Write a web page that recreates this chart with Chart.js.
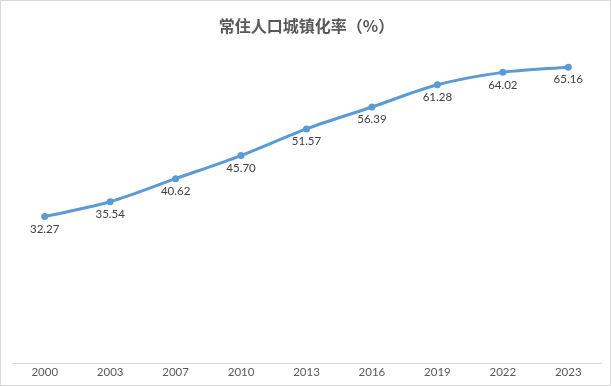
<!DOCTYPE html>
<html>
<head>
<meta charset="utf-8">
<script src="https://cdn.jsdelivr.net/npm/chart.js@4.4.0/dist/chart.umd.min.js"></script>
<style>
  html, body { margin: 0; padding: 0; background: #fff; }
  #wrap { width: 611px; height: 386px; }
</style>
</head>
<body>
<div id="wrap"><canvas id="urbanChart" width="611" height="386"></canvas></div>
<script>
// 年份与城镇化率
const years = ['2000', '2003', '2007', '2010', '2013', '2016', '2019', '2022', '2023'];
const urbanRate = [32.27, 35.54, 40.62, 45.70, 51.57, 56.39, 61.28, 64.02, 65.16];
const chartTitle = '常住人口城镇化率（%）';

// 白底 + 外框
const frame = {
    id: 'frame',
    beforeDraw(chart) {
        const c = chart.ctx;
        c.save();
        c.fillStyle = '#fff';
        c.fillRect(0, 0, chart.width, chart.height);
        c.restore();
    },
    afterDraw(chart) {
        const c = chart.ctx;
        c.save();
        c.strokeStyle = '#D9D9D9';
        c.lineWidth = 1;
        c.strokeRect(0.5, 0.5, chart.width - 1, chart.height - 1);
        c.restore();
    }
};

// 数据标签（点下方）
const pointLabels = {
    id: 'pointLabels',
    afterDatasetsDraw(chart) {
        const c = chart.ctx;
        const meta = chart.getDatasetMeta(0);
        c.save();
        c.font = '11.5px Lato, "Liberation Sans", sans-serif';
        c.fillStyle = '#404040';
        c.textAlign = 'center';
        c.textBaseline = 'middle';
        meta.data.forEach((pt, i) => {
            c.fillText(urbanRate[i].toFixed(2), pt.x, pt.y + 12.5);
        });
        c.restore();
    }
};

const ctx = document.getElementById('urbanChart').getContext('2d');
const chart = new Chart(ctx, {
    type: 'line',
    data: {
        labels: years,
        datasets: [{
            data: urbanRate,
            borderColor: '#5B9BD5',
            backgroundColor: '#5B9BD5',
            borderWidth: 3,
            pointRadius: 3.5,
            pointBorderWidth: 0,
            tension: 0.3
        }]
    },
    options: {
        responsive: false,
        animation: false,
        layout: { padding: { left: 12, right: 10, top: 12, bottom: 4 } },
        plugins: {
            legend: { display: false },
            tooltip: { enabled: false },
            title: {
                display: true,
                text: chartTitle,
                color: '#595959',
                font: { family: '"Noto Sans CJK SC"', size: 16, weight: 'bold' },
                padding: { top: 4, bottom: 10 }
            }
        },
        scales: {
            x: {
                offset: true,
                grid: { display: false, drawTicks: false },
                border: { color: '#D9D9D9', width: 1 },
                ticks: {
                    color: '#595959',
                    padding: 2.5,
                    maxRotation: 0,
                    font: { family: 'Lato, "Liberation Sans", sans-serif', size: 11.5 }
                }
            },
            y: {
                display: false,
                min: 0,
                max: 70
            }
        }
    },
    plugins: [frame, pointLabels]
});
</script>
</body>
</html>
